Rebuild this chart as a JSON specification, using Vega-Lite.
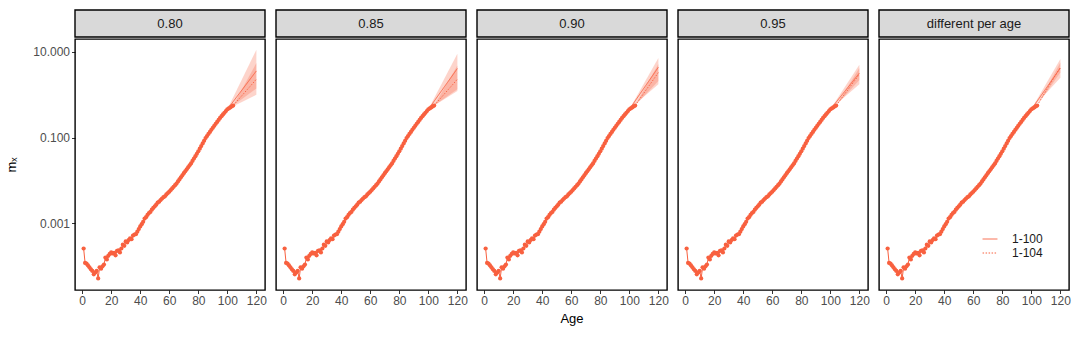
{
  "$schema": "https://vega.github.io/schema/vega-lite/v6.json",
  "padding": {"left": 5, "top": 9, "right": 5, "bottom": 5},
  "config": {
    "font": "Liberation Sans",
    "view": {"stroke": "black", "strokeWidth": 1.4},
    "axis": {"grid": false, "domain": false, "labelColor": "#4D4D4D", "labelFontSize": 12, "labelOverlap": false, "tickColor": "#333333", "tickSize": 3.5, "tickWidth": 1, "titleFontWeight": "normal", "titleFontSize": 13, "titleColor": "black", "labelPadding": 2},
    "concat": {"spacing": 0}
  },
  "datasets": {
    "strips": [{"p": "0.80"}, {"p": "0.85"}, {"p": "0.90"}, {"p": "0.95"}, {"p": "different per age"}],
    "main": [
      {"kind": "obs", "age": 1, "mx": 0.00026, "p": ["0.80","0.85","0.90","0.95","different per age"]},
      {"kind": "obs", "age": 2, "mx": 0.00012, "p": ["0.80","0.85","0.90","0.95","different per age"]},
      {"kind": "obs", "age": 3, "mx": 0.000115, "p": ["0.80","0.85","0.90","0.95","different per age"]},
      {"kind": "obs", "age": 4, "mx": 0.000105, "p": ["0.80","0.85","0.90","0.95","different per age"]},
      {"kind": "obs", "age": 5, "mx": 0.000095, "p": ["0.80","0.85","0.90","0.95","different per age"]},
      {"kind": "obs", "age": 6, "mx": 0.000085, "p": ["0.80","0.85","0.90","0.95","different per age"]},
      {"kind": "obs", "age": 7, "mx": 0.000078, "p": ["0.80","0.85","0.90","0.95","different per age"]},
      {"kind": "obs", "age": 8, "mx": 0.000065, "p": ["0.80","0.85","0.90","0.95","different per age"]},
      {"kind": "obs", "age": 9, "mx": 0.000072, "p": ["0.80","0.85","0.90","0.95","different per age"]},
      {"kind": "obs", "age": 10, "mx": 0.000078, "p": ["0.80","0.85","0.90","0.95","different per age"]},
      {"kind": "obs", "age": 11, "mx": 0.000052, "p": ["0.80","0.85","0.90","0.95","different per age"]},
      {"kind": "obs", "age": 12, "mx": 0.000095, "p": ["0.80","0.85","0.90","0.95","different per age"]},
      {"kind": "obs", "age": 13, "mx": 0.000088, "p": ["0.80","0.85","0.90","0.95","different per age"]},
      {"kind": "obs", "age": 14, "mx": 0.0001, "p": ["0.80","0.85","0.90","0.95","different per age"]},
      {"kind": "obs", "age": 15, "mx": 0.00011, "p": ["0.80","0.85","0.90","0.95","different per age"]},
      {"kind": "obs", "age": 16, "mx": 0.00016, "p": ["0.80","0.85","0.90","0.95","different per age"]},
      {"kind": "obs", "age": 17, "mx": 0.000145, "p": ["0.80","0.85","0.90","0.95","different per age"]},
      {"kind": "obs", "age": 18, "mx": 0.000175, "p": ["0.80","0.85","0.90","0.95","different per age"]},
      {"kind": "obs", "age": 19, "mx": 0.000195, "p": ["0.80","0.85","0.90","0.95","different per age"]},
      {"kind": "obs", "age": 20, "mx": 0.00021, "p": ["0.80","0.85","0.90","0.95","different per age"]},
      {"kind": "obs", "age": 21, "mx": 0.0002, "p": ["0.80","0.85","0.90","0.95","different per age"]},
      {"kind": "obs", "age": 22, "mx": 0.000205, "p": ["0.80","0.85","0.90","0.95","different per age"]},
      {"kind": "obs", "age": 23, "mx": 0.00018, "p": ["0.80","0.85","0.90","0.95","different per age"]},
      {"kind": "obs", "age": 24, "mx": 0.00023, "p": ["0.80","0.85","0.90","0.95","different per age"]},
      {"kind": "obs", "age": 25, "mx": 0.000235, "p": ["0.80","0.85","0.90","0.95","different per age"]},
      {"kind": "obs", "age": 26, "mx": 0.00021, "p": ["0.80","0.85","0.90","0.95","different per age"]},
      {"kind": "obs", "age": 27, "mx": 0.00026, "p": ["0.80","0.85","0.90","0.95","different per age"]},
      {"kind": "obs", "age": 28, "mx": 0.00032, "p": ["0.80","0.85","0.90","0.95","different per age"]},
      {"kind": "obs", "age": 29, "mx": 0.0003, "p": ["0.80","0.85","0.90","0.95","different per age"]},
      {"kind": "obs", "age": 30, "mx": 0.00038, "p": ["0.80","0.85","0.90","0.95","different per age"]},
      {"kind": "obs", "age": 31, "mx": 0.00036, "p": ["0.80","0.85","0.90","0.95","different per age"]},
      {"kind": "obs", "age": 32, "mx": 0.00041, "p": ["0.80","0.85","0.90","0.95","different per age"]},
      {"kind": "obs", "age": 33, "mx": 0.00045, "p": ["0.80","0.85","0.90","0.95","different per age"]},
      {"kind": "obs", "age": 34, "mx": 0.00043, "p": ["0.80","0.85","0.90","0.95","different per age"]},
      {"kind": "obs", "age": 35, "mx": 0.00052, "p": ["0.80","0.85","0.90","0.95","different per age"]},
      {"kind": "obs", "age": 36, "mx": 0.00055, "p": ["0.80","0.85","0.90","0.95","different per age"]},
      {"kind": "obs", "age": 37, "mx": 0.00056, "p": ["0.80","0.85","0.90","0.95","different per age"]},
      {"kind": "obs", "age": 38, "mx": 0.00064, "p": ["0.80","0.85","0.90","0.95","different per age"]},
      {"kind": "obs", "age": 39, "mx": 0.00074, "p": ["0.80","0.85","0.90","0.95","different per age"]},
      {"kind": "obs", "age": 40, "mx": 0.00085, "p": ["0.80","0.85","0.90","0.95","different per age"]},
      {"kind": "obs", "age": 41, "mx": 0.00096, "p": ["0.80","0.85","0.90","0.95","different per age"]},
      {"kind": "obs", "age": 42, "mx": 0.00109, "p": ["0.80","0.85","0.90","0.95","different per age"]},
      {"kind": "obs", "age": 43, "mx": 0.0013, "p": ["0.80","0.85","0.90","0.95","different per age"]},
      {"kind": "obs", "age": 44, "mx": 0.0014, "p": ["0.80","0.85","0.90","0.95","different per age"]},
      {"kind": "obs", "age": 45, "mx": 0.00158, "p": ["0.80","0.85","0.90","0.95","different per age"]},
      {"kind": "obs", "age": 46, "mx": 0.00174, "p": ["0.80","0.85","0.90","0.95","different per age"]},
      {"kind": "obs", "age": 47, "mx": 0.00185, "p": ["0.80","0.85","0.90","0.95","different per age"]},
      {"kind": "obs", "age": 48, "mx": 0.00209, "p": ["0.80","0.85","0.90","0.95","different per age"]},
      {"kind": "obs", "age": 49, "mx": 0.00229, "p": ["0.80","0.85","0.90","0.95","different per age"]},
      {"kind": "obs", "age": 50, "mx": 0.00251, "p": ["0.80","0.85","0.90","0.95","different per age"]},
      {"kind": "obs", "age": 51, "mx": 0.00273, "p": ["0.80","0.85","0.90","0.95","different per age"]},
      {"kind": "obs", "age": 52, "mx": 0.00305, "p": ["0.80","0.85","0.90","0.95","different per age"]},
      {"kind": "obs", "age": 53, "mx": 0.00322, "p": ["0.80","0.85","0.90","0.95","different per age"]},
      {"kind": "obs", "age": 54, "mx": 0.0035, "p": ["0.80","0.85","0.90","0.95","different per age"]},
      {"kind": "obs", "age": 55, "mx": 0.0038, "p": ["0.80","0.85","0.90","0.95","different per age"]},
      {"kind": "obs", "age": 56, "mx": 0.00409, "p": ["0.80","0.85","0.90","0.95","different per age"]},
      {"kind": "obs", "age": 57, "mx": 0.0043, "p": ["0.80","0.85","0.90","0.95","different per age"]},
      {"kind": "obs", "age": 58, "mx": 0.00474, "p": ["0.80","0.85","0.90","0.95","different per age"]},
      {"kind": "obs", "age": 59, "mx": 0.00511, "p": ["0.80","0.85","0.90","0.95","different per age"]},
      {"kind": "obs", "age": 60, "mx": 0.0055, "p": ["0.80","0.85","0.90","0.95","different per age"]},
      {"kind": "obs", "age": 61, "mx": 0.006, "p": ["0.80","0.85","0.90","0.95","different per age"]},
      {"kind": "obs", "age": 62, "mx": 0.00655, "p": ["0.80","0.85","0.90","0.95","different per age"]},
      {"kind": "obs", "age": 63, "mx": 0.00714, "p": ["0.80","0.85","0.90","0.95","different per age"]},
      {"kind": "obs", "age": 64, "mx": 0.0078, "p": ["0.80","0.85","0.90","0.95","different per age"]},
      {"kind": "obs", "age": 65, "mx": 0.00851, "p": ["0.80","0.85","0.90","0.95","different per age"]},
      {"kind": "obs", "age": 66, "mx": 0.00951, "p": ["0.80","0.85","0.90","0.95","different per age"]},
      {"kind": "obs", "age": 67, "mx": 0.0106, "p": ["0.80","0.85","0.90","0.95","different per age"]},
      {"kind": "obs", "age": 68, "mx": 0.0119, "p": ["0.80","0.85","0.90","0.95","different per age"]},
      {"kind": "obs", "age": 69, "mx": 0.0132, "p": ["0.80","0.85","0.90","0.95","different per age"]},
      {"kind": "obs", "age": 70, "mx": 0.0148, "p": ["0.80","0.85","0.90","0.95","different per age"]},
      {"kind": "obs", "age": 71, "mx": 0.0164, "p": ["0.80","0.85","0.90","0.95","different per age"]},
      {"kind": "obs", "age": 72, "mx": 0.0183, "p": ["0.80","0.85","0.90","0.95","different per age"]},
      {"kind": "obs", "age": 73, "mx": 0.0203, "p": ["0.80","0.85","0.90","0.95","different per age"]},
      {"kind": "obs", "age": 74, "mx": 0.0226, "p": ["0.80","0.85","0.90","0.95","different per age"]},
      {"kind": "obs", "age": 75, "mx": 0.0251, "p": ["0.80","0.85","0.90","0.95","different per age"]},
      {"kind": "obs", "age": 76, "mx": 0.0286, "p": ["0.80","0.85","0.90","0.95","different per age"]},
      {"kind": "obs", "age": 77, "mx": 0.0325, "p": ["0.80","0.85","0.90","0.95","different per age"]},
      {"kind": "obs", "age": 78, "mx": 0.037, "p": ["0.80","0.85","0.90","0.95","different per age"]},
      {"kind": "obs", "age": 79, "mx": 0.0421, "p": ["0.80","0.85","0.90","0.95","different per age"]},
      {"kind": "obs", "age": 80, "mx": 0.0479, "p": ["0.80","0.85","0.90","0.95","different per age"]},
      {"kind": "obs", "age": 81, "mx": 0.0552, "p": ["0.80","0.85","0.90","0.95","different per age"]},
      {"kind": "obs", "age": 82, "mx": 0.0637, "p": ["0.80","0.85","0.90","0.95","different per age"]},
      {"kind": "obs", "age": 83, "mx": 0.0735, "p": ["0.80","0.85","0.90","0.95","different per age"]},
      {"kind": "obs", "age": 84, "mx": 0.0847, "p": ["0.80","0.85","0.90","0.95","different per age"]},
      {"kind": "obs", "age": 85, "mx": 0.0977, "p": ["0.80","0.85","0.90","0.95","different per age"]},
      {"kind": "obs", "age": 86, "mx": 0.109, "p": ["0.80","0.85","0.90","0.95","different per age"]},
      {"kind": "obs", "age": 87, "mx": 0.122, "p": ["0.80","0.85","0.90","0.95","different per age"]},
      {"kind": "obs", "age": 88, "mx": 0.136, "p": ["0.80","0.85","0.90","0.95","different per age"]},
      {"kind": "obs", "age": 89, "mx": 0.152, "p": ["0.80","0.85","0.90","0.95","different per age"]},
      {"kind": "obs", "age": 90, "mx": 0.17, "p": ["0.80","0.85","0.90","0.95","different per age"]},
      {"kind": "obs", "age": 91, "mx": 0.189, "p": ["0.80","0.85","0.90","0.95","different per age"]},
      {"kind": "obs", "age": 92, "mx": 0.21, "p": ["0.80","0.85","0.90","0.95","different per age"]},
      {"kind": "obs", "age": 93, "mx": 0.233, "p": ["0.80","0.85","0.90","0.95","different per age"]},
      {"kind": "obs", "age": 94, "mx": 0.259, "p": ["0.80","0.85","0.90","0.95","different per age"]},
      {"kind": "obs", "age": 95, "mx": 0.288, "p": ["0.80","0.85","0.90","0.95","different per age"]},
      {"kind": "obs", "age": 96, "mx": 0.316, "p": ["0.80","0.85","0.90","0.95","different per age"]},
      {"kind": "obs", "age": 97, "mx": 0.347, "p": ["0.80","0.85","0.90","0.95","different per age"]},
      {"kind": "obs", "age": 98, "mx": 0.38, "p": ["0.80","0.85","0.90","0.95","different per age"]},
      {"kind": "obs", "age": 99, "mx": 0.417, "p": ["0.80","0.85","0.90","0.95","different per age"]},
      {"kind": "obs", "age": 100, "mx": 0.457, "p": ["0.80","0.85","0.90","0.95","different per age"]},
      {"kind": "obs", "age": 101, "mx": 0.481, "p": ["0.80","0.85","0.90","0.95","different per age"]},
      {"kind": "obs", "age": 102, "mx": 0.507, "p": ["0.80","0.85","0.90","0.95","different per age"]},
      {"kind": "obs", "age": 103, "mx": 0.534, "p": ["0.80","0.85","0.90","0.95","different per age"]},
      {"kind": "obs", "age": 104, "mx": 0.562, "p": ["0.80","0.85","0.90","0.95","different per age"]},
      {"kind": "fit", "fit": "1-100", "age": 100, "mx": 0.457, "lo": 0.457, "hi": 0.457, "p": ["0.80"]},
      {"kind": "fit", "fit": "1-100", "age": 120, "mx": 3.6, "lo": 1.0, "hi": 11.2, "p": ["0.80"]},
      {"kind": "fit", "fit": "1-104", "age": 104, "mx": 0.562, "lo": 0.562, "hi": 0.562, "p": ["0.80"]},
      {"kind": "fit", "fit": "1-104", "age": 120, "mx": 2.3, "lo": 1.4, "hi": 5.5, "p": ["0.80"]},
      {"kind": "fit", "fit": "1-100", "age": 100, "mx": 0.457, "lo": 0.457, "hi": 0.457, "p": ["0.85"]},
      {"kind": "fit", "fit": "1-100", "age": 120, "mx": 4.1, "lo": 1.23, "hi": 9.0, "p": ["0.85"]},
      {"kind": "fit", "fit": "1-104", "age": 104, "mx": 0.562, "lo": 0.562, "hi": 0.562, "p": ["0.85"]},
      {"kind": "fit", "fit": "1-104", "age": 120, "mx": 2.3, "lo": 1.35, "hi": 4.8, "p": ["0.85"]},
      {"kind": "fit", "fit": "1-100", "age": 100, "mx": 0.457, "lo": 0.457, "hi": 0.457, "p": ["0.90"]},
      {"kind": "fit", "fit": "1-100", "age": 120, "mx": 4.4, "lo": 1.77, "hi": 7.2, "p": ["0.90"]},
      {"kind": "fit", "fit": "1-104", "age": 104, "mx": 0.562, "lo": 0.562, "hi": 0.562, "p": ["0.90"]},
      {"kind": "fit", "fit": "1-104", "age": 120, "mx": 3.3, "lo": 2.1, "hi": 5.2, "p": ["0.90"]},
      {"kind": "fit", "fit": "1-100", "age": 100, "mx": 0.457, "lo": 0.457, "hi": 0.457, "p": ["0.95"]},
      {"kind": "fit", "fit": "1-100", "age": 120, "mx": 3.2, "lo": 1.77, "hi": 5.0, "p": ["0.95"]},
      {"kind": "fit", "fit": "1-104", "age": 104, "mx": 0.562, "lo": 0.562, "hi": 0.562, "p": ["0.95"]},
      {"kind": "fit", "fit": "1-104", "age": 120, "mx": 3.0, "lo": 2.2, "hi": 4.2, "p": ["0.95"]},
      {"kind": "fit", "fit": "1-100", "age": 100, "mx": 0.457, "lo": 0.457, "hi": 0.457, "p": ["different per age"]},
      {"kind": "fit", "fit": "1-100", "age": 120, "mx": 4.2, "lo": 2.5, "hi": 6.8, "p": ["different per age"]},
      {"kind": "fit", "fit": "1-104", "age": 104, "mx": 0.562, "lo": 0.562, "hi": 0.562, "p": ["different per age"]},
      {"kind": "fit", "fit": "1-104", "age": 120, "mx": 4.4, "lo": 3.3, "hi": 5.7, "p": ["different per age"]}
    ]
  },
  "vconcat": [
    {
      "data": {"name": "strips"},
      "facet": {"column": {"field": "p", "type": "nominal", "header": {"labels": false, "title": null}}},
      "spacing": 11,
      "bounds": "flush",
      "spec": {
        "width": 190,
        "height": 27,
        "view": {"stroke": null},
        "layer": [
          {
            "mark": {"type": "rect", "fill": "#D9D9D9", "stroke": "black", "strokeWidth": 1.4},
            "encoding": {
              "x": {"datum": 0, "type": "quantitative", "scale": {"domain": [0, 1], "nice": false}, "axis": null},
              "x2": {"datum": 1},
              "y": {"datum": 0, "type": "quantitative", "scale": {"domain": [0, 1], "nice": false}, "axis": {"values": [0.5], "labelExpr": "'10.000'", "labelColor": "transparent", "tickColor": "transparent", "title": "mₓ", "titleColor": "transparent", "titlePadding": 14}},
              "y2": {"datum": 1}
            }
          },
          {
            "mark": {"type": "text", "fontSize": 13, "color": "#1A1A1A"},
            "encoding": {
              "text": {"field": "p", "type": "nominal"},
              "x": {"datum": 0.5, "type": "quantitative"},
              "y": {"datum": 0.5, "type": "quantitative"}
            }
          }
        ]
      }
    },
    {
      "data": {"name": "main"},
      "transform": [{"flatten": ["p"]}],
      "facet": {"column": {"field": "p", "type": "nominal", "header": {"labels": false, "title": "Age", "titleOrient": "bottom", "titleFontSize": 13, "titleFontWeight": "normal", "titleColor": "black", "titlePadding": -4}}},
      "spacing": 11,
      "bounds": "flush",
      "spec": {
        "width": 190,
        "height": 251,
        "encoding": {
          "x": {"field": "age", "type": "quantitative", "scale": {"domain": [-4.95, 125.95], "nice": false, "zero": false}, "axis": {"values": [0, 20, 40, 60, 80, 100, 120], "labelOverlap": false, "labelFlush": false, "title": null}}
        },
        "layer": [
          {
            "transform": [{"filter": "datum.kind == 'fit'"}],
            "mark": {"type": "area", "color": "#F8603F", "opacity": 0.27},
            "encoding": {
              "y": {"field": "lo", "type": "quantitative", "scale": {"type": "log", "domain": [0.000028, 20], "nice": false}, "axis": {"values": [0.001, 0.1, 10], "format": ".3f", "title": "mₓ", "titlePadding": 14}},
              "y2": {"field": "hi"},
              "detail": {"field": "fit", "type": "nominal"}
            }
          },
          {
            "transform": [{"filter": "datum.kind == 'obs'"}],
            "mark": {"type": "line", "color": "#F8603F", "strokeWidth": 1},
            "encoding": {
              "y": {"field": "mx", "type": "quantitative"}
            }
          },
          {
            "transform": [{"filter": "datum.kind == 'obs'"}],
            "mark": {"type": "circle", "color": "#F8603F", "size": 18, "opacity": 1},
            "encoding": {
              "y": {"field": "mx", "type": "quantitative"}
            }
          },
          {
            "transform": [{"filter": "datum.kind == 'fit'"}],
            "mark": {"type": "line", "color": "#F8603F", "strokeWidth": 0.9},
            "encoding": {
              "y": {"field": "mx", "type": "quantitative"},
              "strokeDash": {
                "field": "fit", "type": "nominal",
                "scale": {"domain": ["1-100", "1-104"], "range": [[1, 0], [1.5, 1.5]]},
                "legend": {"title": null, "orient": "none", "legendX": 907, "legendY": 221, "symbolType": "stroke", "symbolStrokeColor": "#F8603F", "symbolStrokeWidth": 1, "symbolSize": 220, "labelOffset": 14, "labelFontSize": 12, "labelColor": "#1A1A1A", "rowPadding": 0}
              }
            }
          }
        ]
      }
    }
  ]
}
